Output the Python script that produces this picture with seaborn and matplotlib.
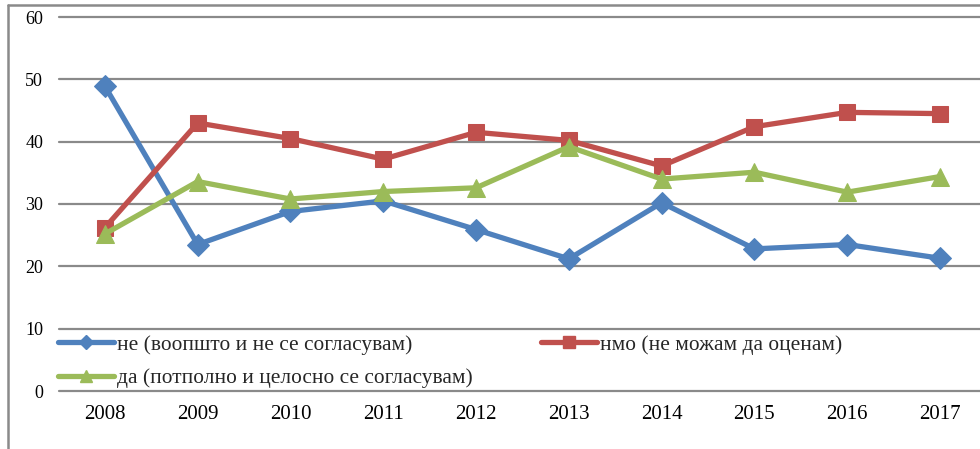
import matplotlib
matplotlib.use("Agg")
import matplotlib.pyplot as plt
from matplotlib.lines import Line2D
import seaborn as sns
import pandas as pd

# Survey answers per year, in percent
years = [2008, 2009, 2010, 2011, 2012, 2013, 2014, 2015, 2016, 2017]
ne = [48.9, 23.5, 28.8, 30.5, 25.9, 21.2, 30.2, 22.8, 23.5, 21.3]
nmo = [26.2, 43.0, 40.5, 37.2, 41.5, 40.2, 36.1, 42.4, 44.7, 44.5]
da = [25.2, 33.6, 30.8, 32.0, 32.6, 39.2, 34.0, 35.1, 31.9, 34.4]
y_ticks = [0, 10, 20, 30, 40, 50, 60]

labels = {
    "ne": "не (воопшто и не се согласувам)",
    "nmo": "нмо (не можам да оценам)",
    "da": "да (потполно и целосно се согласувам)",
}

df = pd.DataFrame({"year": years, "ne": ne, "nmo": nmo, "da": da})

sns.set_theme(style="white")
plt.rcParams["font.family"] = ["Liberation Serif", "DejaVu Serif"]

W, H = 980, 449
fig = plt.figure(figsize=(W / 100, H / 100), dpi=100)
fig.patch.set_facecolor("white")

# plot area in pixel terms
left_px, right_px = 58.5, 986.4
top_px, bottom_px = 17.0, 391.0
ax = fig.add_axes([left_px / W, 1 - bottom_px / H,
                   (right_px - left_px) / W, (bottom_px - top_px) / H])
ax.set_facecolor("white")

grid_color = "#8a8a8a"
for v in y_ticks:
    ax.axhline(v, color=grid_color, lw=1.6, zorder=1, clip_on=False)

styles = [
    ("ne", "#4F81BD", "D", 11),
    ("nmo", "#C0504D", "s", 12),
    ("da", "#9BBB59", "^", 13),
]
for key, color, marker, ms in styles:
    sns.lineplot(data=df, x="year", y=key, ax=ax, color=color, lw=3.8,
                 marker=marker, markersize=ms, markeredgecolor=color,
                 zorder=3, legend=False)

ax.set_xlim(2007.5, 2017.5)
ax.set_ylim(0, 60)
ax.set_xticks(years)
ax.set_xticklabels([str(y) for y in years], fontsize=15)
ax.set_yticks(y_ticks)
ax.set_yticklabels([str(v) for v in y_ticks], fontsize=13)
ax.tick_params(axis="x", length=0, pad=10, colors="black")
ax.tick_params(axis="y", length=0, pad=11, colors="black")
ax.set_xlabel("")
ax.set_ylabel("")
for s in ax.spines.values():
    s.set_visible(False)

# Legend: two entries in the first column, one in the second
def handle(color, marker, ms):
    return Line2D([], [], color=color, lw=3.8, marker=marker,
                  markersize=ms, markeredgecolor=color)

h_ne = handle("#4F81BD", "D", 7)
h_nmo = handle("#C0504D", "s", 8)
h_da = handle("#9BBB59", "^", 8)

leg_font = 15.4
leg1 = ax.legend([h_ne, h_da], [labels["ne"], labels["da"]],
                 loc="upper left",
                 bbox_to_anchor=(58 / W, 1 - 335 / H),
                 bbox_transform=fig.transFigure,
                 frameon=False, fontsize=leg_font, handlelength=2.6,
                 handletextpad=0.15, labelspacing=0.62, borderpad=0,
                 borderaxespad=0)
ax.add_artist(leg1)
ax.legend([h_nmo], [labels["nmo"]], loc="upper left",
          bbox_to_anchor=(541 / W, 1 - 335 / H),
          bbox_transform=fig.transFigure,
          frameon=False, fontsize=leg_font, handlelength=2.6,
          handletextpad=0.15, borderpad=0, borderaxespad=0)

# outer chart frame (top and left edges)
border = "#8a8a8a"
fig.add_artist(Line2D([7.5 / W, 1.0], [1 - 5 / H, 1 - 5 / H],
                      transform=fig.transFigure, color=border, lw=1.8))
fig.add_artist(Line2D([7.5 / W, 7.5 / W], [0, 1 - 5 / H],
                      transform=fig.transFigure, color=border, lw=1.8))

fig.savefig("out.png", dpi=100, facecolor="white")
